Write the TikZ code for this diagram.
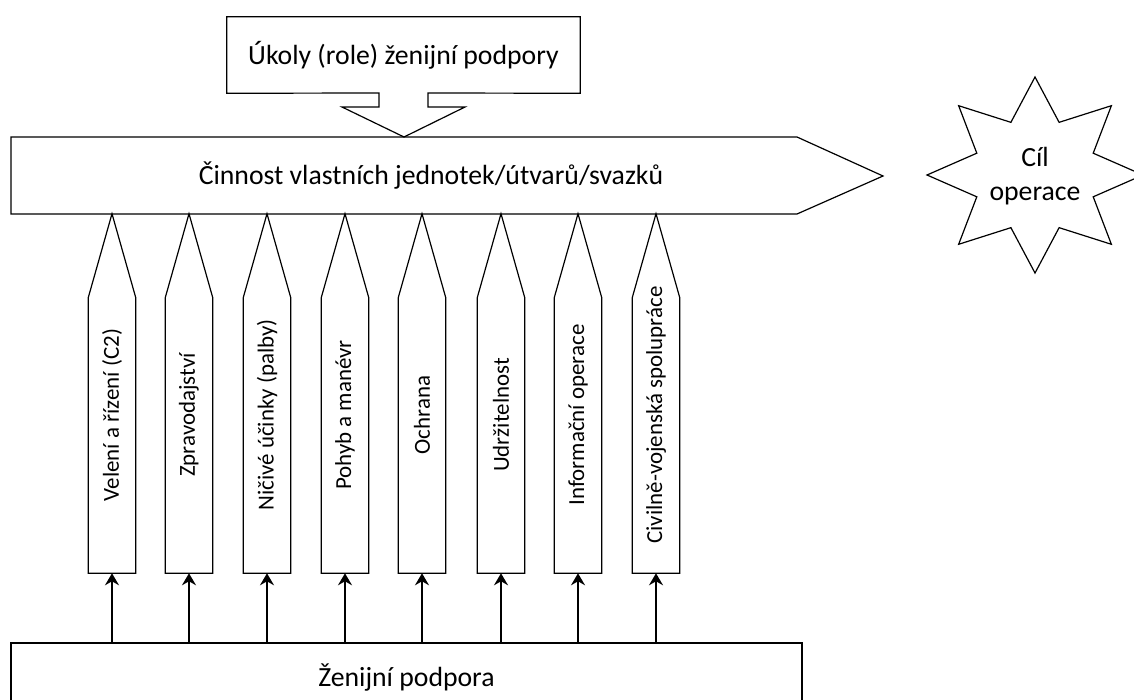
\documentclass[tikz,border=0pt]{standalone}
\usepackage{fontspec}
\setmainfont{Carlito}
\usetikzlibrary{positioning, arrows.meta, calc}
\tikzstyle{box} = [rectangle, draw=black, line width=0.9pt, text centered, font=\fontsize{20.8}{25}\selectfont]
\tikzstyle{label} = [text centered, font=\fontsize{20.8}{25}\selectfont]
\tikzstyle{pillar} = [rectangle, minimum width=35.25pt, minimum height=269.25pt, inner sep=0pt]
\tikzstyle{pillartext} = [rotate=90, font=\fontsize{17.2}{20}\selectfont]
\tikzstyle{outline} = [draw=black, line width=0.9pt, line join=miter]
\tikzstyle{arrow} = [line width=1.4pt, -{Stealth[length=9pt, width=10.5pt, inset=3pt]}]

\begin{document}
\begin{tikzpicture}[x=0.75pt, y=-0.75pt]
		\useasboundingbox (0,0) rectangle (1134,699);
		
		%ukoly
		\node (ukoly) [label, minimum width=264.75pt, minimum height=57pt] at (403.5,55) {Úkoly (role) ženijní podpory};
		\draw [outline](ukoly.north west) -- (ukoly.north east) -- (ukoly.south east) -- (428,93) -- (428,107) -- (465,107) -- (404,137) -- (342,107) -- (379,107) -- (379,93) -- (ukoly.south west) -- cycle;
		
		%cinnost
		\node (cinnost) [label] at (431,176) {Činnost vlastních jednotek/útvarů/svazků};
		\draw [outline](11,137) -- (797,137) -- (883,176) -- (797,214) -- (11,214) -- cycle;
		
		%cil
		\draw [outline, shift={(1035,175)}] plot[samples at={0,...,15}] ({ifthenelse(isodd(\x),63,108)*cos(90+\x*22.5)}, {ifthenelse(isodd(\x),57,98)*sin(90+\x*22.5)}) -- cycle;
		\node (cil) [label, align=center] at (1035,176) {Cíl\\operace};
		
		%zenijni podpora
		\node (zenijni) [box, minimum width=593.25pt, minimum height=52.5pt] at (406.5,678) {Ženijní podpora};
		
		\foreach \x/\txt [count=\i] in {112/Velení a řízení (C2), 189/Zpravodajství, 267/Ničivé účinky (palby), 345/Pohyb a manévr, 422/Ochrana, 501/Udržitelnost, 578/Informační operace, 656/Civilně-vojenská spolupráce}{
			\node (p\i) [pillar] at (\x,393.5) {};
			\draw [outline](p\i.south west) -- (p\i.south east) -- ([yshift=-63pt]p\i.north east) -- (p\i.north) -- ([yshift=-63pt]p\i.north west) -- cycle;
			\node (t\i) [pillartext] at (\x,415) {\txt};
			\draw [arrow](zenijni.north -| p\i.south) -- (p\i.south);
		}
		
	\end{tikzpicture}
\end{document}
